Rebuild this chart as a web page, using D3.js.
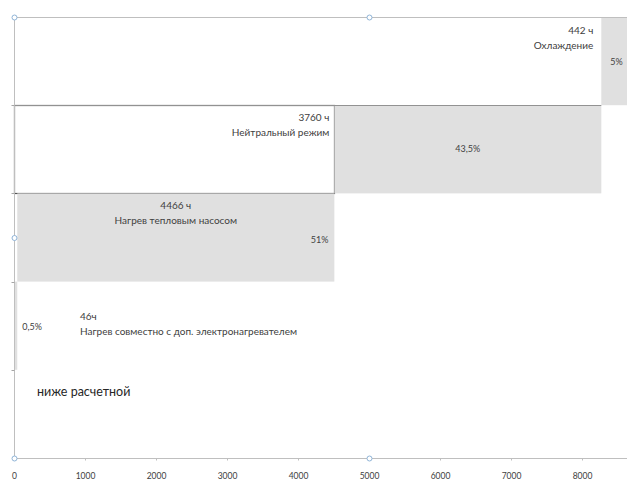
<!DOCTYPE html>
<html>
<head>
<meta charset="utf-8">
<script src="https://cdn.jsdelivr.net/npm/d3@7"></script>
<style>
  html, body { margin: 0; padding: 0; background: #fff; }
  svg { display: block; }
  text { font-family: Lato, "Open Sans", sans-serif; fill: #404040; }
</style>
</head>
<body>
<svg id="chart" width="627" height="487"></svg>
<script>
// Operating modes, listed top to bottom
const modes = [
  "Охлаждение",
  "Нейтральный режим",
  "Нагрев тепловым насосом",
  "Нагрев совместно с доп. электронагревателем",
  "ниже расчетной"
];
// Hours per year spent in each mode
const hours = [442, 3760, 4466, 46, 0];
// Unit suffix written after the hours
const hourUnits = [" ч", " ч", " ч", "ч", ""];
// Share of the year per mode
const shares = ["5%", "43,5%", "51%", "0,5%", ""];
// Axis ticks
const xTicks = [0, 1000, 2000, 3000, 4000, 5000, 6000, 7000, 8000];

(function () {
  const svg = d3.select("#chart");
  const W = 627;
  const plotLeft = 14, plotTop = 17, plotBottom = 458;
  const pxPer1000 = 71;

  const x = d3.scaleLinear().domain([0, 8760]).range([plotLeft, plotLeft + 8.76 * pxPer1000]);
  const y = d3.scaleBand().domain(modes).range([plotTop, plotBottom]).padding(0);

  // cumulative start of each mode (waterfall, bottom mode starts at 0)
  const starts = hours.map((h, i) => d3.sum(hours.slice(i + 1)));

  const plot = svg.append("g");

  // white spacer box in front of the neutral-mode bar
  plot.append("rect")
    .attr("x", x(0) + 0.5)
    .attr("y", Math.round(y(modes[1])) + 0.5)
    .attr("width", Math.round(x(starts[1]) - x(0)))
    .attr("height", Math.round(y.bandwidth()))
    .attr("fill", "#fff")
    .attr("stroke", "#555555")
    .attr("stroke-width", 1.2);

  // mode bars
  plot.selectAll("rect.bar")
    .data(modes.filter((m, i) => hours[i] > 0))
    .join("rect")
    .attr("class", "bar")
    .attr("x", m => x(starts[modes.indexOf(m)]))
    .attr("y", m => y(m))
    .attr("width", m => x(hours[modes.indexOf(m)]) - x(0))
    .attr("height", y.bandwidth())
    .attr("fill", "#e0e0e0");

  // lower edge of the cooling-row spacer
  svg.append("line")
    .attr("x1", plotLeft).attr("x2", x(starts[0]))
    .attr("y1", Math.round(y(modes[1])) + 0.5).attr("y2", Math.round(y(modes[1])) + 0.5)
    .attr("stroke", "#929292");

  // frame line along the top of the plot
  svg.append("line")
    .attr("x1", plotLeft).attr("x2", W)
    .attr("y1", plotTop + 0.5).attr("y2", plotTop + 0.5)
    .attr("stroke", "#bfbfbf");

  // category axis (vertical line with band ticks, no labels)
  const yAxis = svg.append("g")
    .attr("transform", `translate(${plotLeft + 0.5},0)`);
  yAxis.append("line")
    .attr("y1", plotTop).attr("y2", plotBottom)
    .attr("stroke", "#bfbfbf");
  yAxis.selectAll("line.t")
    .data(modes.slice(1))
    .join("line")
    .attr("class", "t")
    .attr("x1", -3).attr("x2", 0)
    .attr("y1", m => Math.round(y(m)) + 0.5)
    .attr("y2", m => Math.round(y(m)) + 0.5)
    .attr("stroke", "#a6a6a6");

  // value axis
  const xAxis = svg.append("g")
    .attr("transform", `translate(0,${plotBottom + 0.5})`)
    .call(d3.axisBottom(x).tickValues(xTicks).tickSize(2).tickPadding(12).tickFormat(d3.format("d")));
  xAxis.select(".domain").attr("stroke", "#bfbfbf").attr("d", `M${plotLeft},0H${W}`);
  xAxis.selectAll(".tick line").attr("stroke", "#bfbfbf");
  xAxis.selectAll(".tick text")
    .style("font-size", "8.5px")
    .style("font-family", "Lato, sans-serif")
    .style("fill", "#404040");

  // labels
  const lab = svg.append("g").style("font-size", "10px");
  const band = i => y(modes[i]);
  const mid = i => y(modes[i]) + y.bandwidth() / 2;
  const hourText = i => hours[i] + hourUnits[i];

  // Охлаждение
  lab.append("text").attr("x", x(starts[0]) - 8).attr("y", band(0) + 17)
    .attr("text-anchor", "end").text(hourText(0));
  lab.append("text").attr("x", x(starts[0]) - 8).attr("y", band(0) + 32)
    .attr("text-anchor", "end").text(modes[0]);
  lab.append("text").attr("x", x(starts[0]) + 9).attr("y", mid(0) + 4)
    .style("font-size", "9px").text(shares[0]);

  // Нейтральный режим
  lab.append("text").attr("x", x(starts[1]) - 5).attr("y", band(1) + 16)
    .attr("text-anchor", "end").text(hourText(1));
  lab.append("text").attr("x", x(starts[1]) - 5).attr("y", band(1) + 31)
    .attr("text-anchor", "end").text(modes[1]);
  lab.append("text").attr("x", (x(starts[1]) + x(starts[1] + hours[1])) / 2).attr("y", mid(1) + 3)
    .attr("text-anchor", "middle").style("font-size", "9px").text(shares[1]);

  // Нагрев тепловым насосом
  const c2 = (x(starts[2]) + x(starts[2] + hours[2])) / 2;
  lab.append("text").attr("x", c2).attr("y", band(2) + 16)
    .attr("text-anchor", "middle").text(hourText(2));
  lab.append("text").attr("x", c2).attr("y", band(2) + 31)
    .attr("text-anchor", "middle").text(modes[2]);
  lab.append("text").attr("x", x(starts[2] + hours[2]) - 6).attr("y", mid(2) + 5)
    .attr("text-anchor", "end").style("font-size", "9px").text(shares[2]);

  // Нагрев совместно с доп. электронагревателем
  lab.append("text").attr("x", x(hours[3]) + 5).attr("y", mid(3) + 4)
    .style("font-size", "9px").text(shares[3]);
  lab.append("text").attr("x", 80).attr("y", mid(3) - 6)
    .text(hourText(3));
  lab.append("text").attr("x", 80).attr("y", mid(3) + 9)
    .text(modes[3]);

  // lowest row caption
  svg.append("text").attr("x", 37).attr("y", mid(4) - 18)
    .style("font-size", "12.5px").style("fill", "#262626")
    .text(modes[4]);

  // selection handles on the chart frame
  const handles = [[plotLeft, plotTop], [x(5000), plotTop], [plotLeft, (plotTop + plotBottom) / 2],
                   [plotLeft, plotBottom], [x(5000), plotBottom]];
  svg.append("g").selectAll("circle")
    .data(handles)
    .join("circle")
    .attr("cx", d => d[0] + 0.5).attr("cy", d => d[1] + 0.5)
    .attr("r", 2.5)
    .attr("fill", "#fff")
    .attr("stroke", "#8fb4d8")
    .attr("stroke-width", 1);
})();
</script>
</body>
</html>
